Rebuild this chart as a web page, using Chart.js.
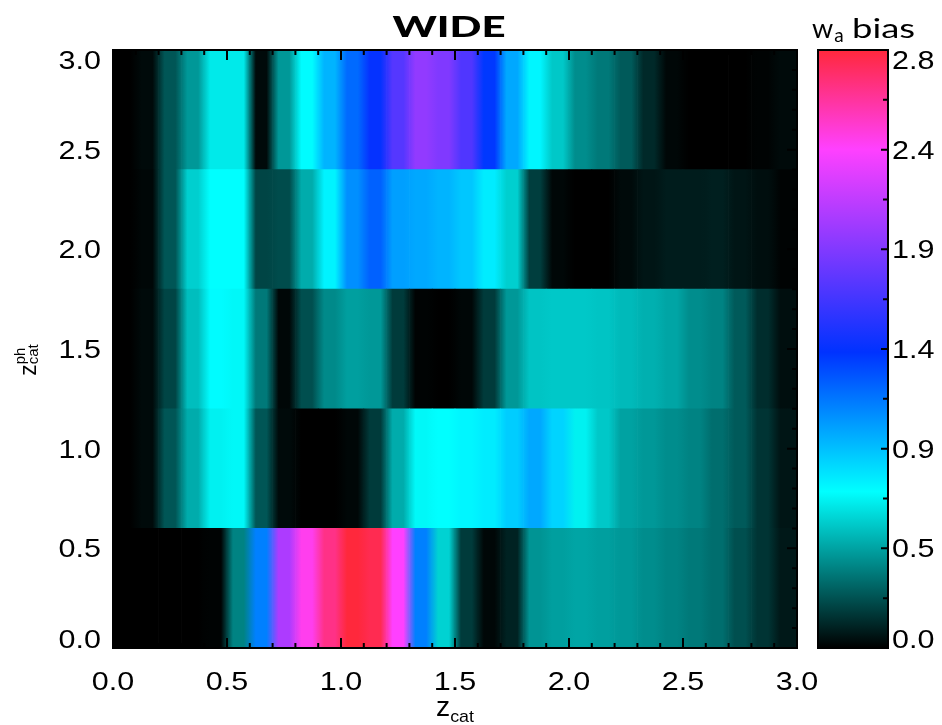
<!DOCTYPE html>
<html>
<head>
<meta charset="utf-8">
<title>WIDE</title>
<script src="https://cdn.jsdelivr.net/npm/chart.js@4.4.1/dist/chart.umd.min.js"></script>
<style>
  html, body { margin: 0; padding: 0; background: #fff; }
  #wrap { position: relative; width: 942px; height: 725px; }
  #heat { position: absolute; left: 0; top: 0; }
  #cbar { position: absolute; left: 790px; top: 0; }
</style>
</head>
<body>
<div id="wrap">
  <canvas id="heat" width="942" height="725"></canvas>
  <canvas id="cbar" width="152" height="725"></canvas>
</div>
<script>
// centres of the z_cat bins (width 0.1)
var zCat = [0.05, 0.15, 0.25, 0.35, 0.45, 0.55, 0.65, 0.75, 0.85, 0.95,
            1.05, 1.15, 1.25, 1.35, 1.45, 1.55, 1.65, 1.75, 1.85, 1.95,
            2.05, 2.15, 2.25, 2.35, 2.45, 2.55, 2.65, 2.75, 2.85, 2.95];
// edges of the z_ph bins
var zPhEdges = [0.0, 0.6, 1.2, 1.8, 2.4, 3.0];

// w_a bias per z_ph bin, one value per z_cat bin
var biasPh00 = [0.00, 0.00, 0.00, 0.00, 0.01, 0.38, 1.15, 2.05, 2.40, 2.65,
                2.83, 2.78, 2.36, 1.15, 0.61, 0.17, 0.02, 0.10, 0.43, 0.46,
                0.48, 0.46, 0.44, 0.41, 0.38, 0.35, 0.32, 0.23, 0.15, 0.07];
var biasPh06 = [0.00, 0.03, 0.25, 0.50, 0.70, 0.72, 0.25, 0.03, 0.00, 0.00,
                0.02, 0.17, 0.50, 0.72, 0.74, 0.77, 0.80, 0.90, 1.02, 0.88,
                0.70, 0.58, 0.47, 0.44, 0.41, 0.38, 0.32, 0.26, 0.15, 0.06];
var biasPh12 = [0.00, 0.03, 0.20, 0.55, 0.75, 0.72, 0.35, 0.02, 0.23, 0.40,
                0.46, 0.44, 0.17, 0.01, 0.00, 0.02, 0.17, 0.44, 0.57, 0.58,
                0.58, 0.57, 0.54, 0.51, 0.48, 0.41, 0.38, 0.26, 0.13, 0.04];
var biasPh18 = [0.00, 0.02, 0.25, 0.60, 0.74, 0.74, 0.20, 0.22, 0.50, 0.78,
                1.10, 1.25, 1.05, 1.02, 0.98, 0.92, 0.80, 0.60, 0.18, 0.02,
                0.00, 0.00, 0.03, 0.06, 0.08, 0.08, 0.09, 0.06, 0.04, 0.01];
var biasPh24 = [0.00, 0.03, 0.25, 0.44, 0.68, 0.68, 0.03, 0.44, 0.75, 0.98,
                1.22, 1.42, 1.72, 1.95, 1.88, 1.70, 1.38, 1.02, 0.77, 0.58,
                0.41, 0.35, 0.26, 0.12, 0.02, 0.00, 0.00, 0.00, 0.01, 0.03];
var rows = [biasPh00, biasPh06, biasPh12, biasPh18, biasPh24];

// axis ticks
var zTicks = [0.0, 0.5, 1.0, 1.5, 2.0, 2.5, 3.0];
var biasMax = 2.83;
var barTicks = [0.0, 0.4717, 0.9433, 1.415, 1.8867, 2.3583, 2.83];
var barLabels = ['0.0', '0.5', '0.9', '1.4', '1.9', '2.4', '2.8'];

// colour table: black -> cyan -> blue -> magenta -> red
var cmapStops = [
  [0.00, [0, 0, 0]],
  [0.74, [0, 255, 255]],
  [1.40, [0, 50, 255]],
  [2.36, [255, 64, 255]],
  [2.83, [255, 40, 60]]
];

function cmap(v) {
  if (v <= cmapStops[0][0]) return cmapStops[0][1];
  for (var i = 1; i < cmapStops.length; i++) {
    var a = cmapStops[i - 1], b = cmapStops[i];
    if (v <= b[0]) {
      var t = (v - a[0]) / (b[0] - a[0]);
      return [0, 1, 2].map(function (j) { return a[1][j] + t * (b[1][j] - a[1][j]); });
    }
  }
  return cmapStops[cmapStops.length - 1][1];
}
function rgb(c) {
  return 'rgb(' + Math.round(c[0]) + ',' + Math.round(c[1]) + ',' + Math.round(c[2]) + ')';
}
function mix(a, b) {
  return [(a[0] + b[0]) / 2, (a[1] + b[1]) / 2, (a[2] + b[2]) / 2];
}

// each cell fades into its neighbours over a few pixels
var SOFT = 6;
function cellFill(c) {
  var chart = c.chart, xs = chart.scales.x;
  var row = rows[c.datasetIndex], k = c.dataIndex;
  if (row === undefined || k === undefined) return '#000';
  var self = cmap(row[k]);
  if (!chart.chartArea) return rgb(self);
  var half = (zCat[1] - zCat[0]) / 2;
  var x0 = xs.getPixelForValue(zCat[k] - half);
  var x1 = xs.getPixelForValue(zCat[k] + half);
  var prev = k > 0 ? cmap(row[k - 1]) : self;
  var next = k < row.length - 1 ? cmap(row[k + 1]) : self;
  var w = Math.min(0.45, SOFT / (x1 - x0));
  var g = chart.ctx.createLinearGradient(x0, 0, x1, 0);
  g.addColorStop(0, rgb(mix(prev, self)));
  g.addColorStop(w, rgb(self));
  g.addColorStop(1 - w, rgb(self));
  g.addColorStop(1, rgb(mix(self, next)));
  return g;
}

var HELV = '"Liberation Sans", Arial, sans-serif';
var GILL = 'Lato, "Open Sans", sans-serif';
var LABEL_FONT = '25px ' + HELV;
var LABEL_STRETCH = 1.22;
var DIGIT_H = 18;

// a single string drawn wider than the font's own proportions
function wideText(ctx, t, x, y, font, stretch, align, base) {
  ctx.save();
  ctx.translate(x, y);
  ctx.scale(stretch, 1);
  ctx.font = font;
  ctx.textAlign = align;
  ctx.textBaseline = base;
  ctx.fillText(t, 0, 0);
  ctx.restore();
}

// baseline for a vertical-axis label: centred on its tick, kept inside the axis ends
function labelBase(py, a) {
  return Math.min(Math.max(py + DIGIT_H / 2, a.top + DIGIT_H + 1), a.bottom);
}

// base letter followed by sub/superscripts
function scriptText(ctx, x, y, base, scripts, align, stretch) {
  stretch = stretch || 1;
  ctx.font = base.font;
  var bw = ctx.measureText(base.t).width;
  var sw = 0;
  scripts.forEach(function (s) {
    ctx.font = s.font;
    s.w = ctx.measureText(s.t).width;
    sw = Math.max(sw, s.w + (s.dx || 0));
  });
  var total = bw + sw;
  ctx.save();
  ctx.translate(x, y);
  ctx.scale(stretch, 1);
  ctx.textAlign = 'left';
  ctx.textBaseline = 'alphabetic';
  var x0 = align === 'center' ? -total / 2 : 0;
  ctx.font = base.font;
  ctx.fillText(base.t, x0, 0);
  scripts.forEach(function (s) {
    ctx.font = s.font;
    ctx.fillText(s.t, x0 + bw + (s.dx || 0), s.dy || 0);
  });
  ctx.restore();
  return total * stretch;
}

// frame, inward tick marks, tick labels and titles of the map
var heatFrame = {
  id: 'heatFrame',
  afterDatasetsDraw: function (chart) {
    var a = chart.chartArea, ctx = chart.ctx;
    var xs = chart.scales.x, ys = chart.scales.y;
    ctx.save();
    ctx.strokeStyle = '#000';
    ctx.lineWidth = 2;
    ctx.beginPath();
    for (var i = 1; i < 30; i++) {
      var len = i % 5 === 0 ? 10 : 5;
      var px = xs.getPixelForValue(i / 10);
      var py = ys.getPixelForValue(i / 10);
      ctx.moveTo(px, a.bottom); ctx.lineTo(px, a.bottom - len);
      ctx.moveTo(px, a.top); ctx.lineTo(px, a.top + len);
      ctx.moveTo(a.left, py); ctx.lineTo(a.left + len, py);
      ctx.moveTo(a.right, py); ctx.lineTo(a.right - len, py);
    }
    ctx.stroke();
    ctx.strokeRect(a.left, a.top, a.right - a.left, a.bottom - a.top);
    ctx.fillStyle = '#000';

    // tick labels
    xs.ticks.forEach(function (t) {
      wideText(ctx, t.value.toFixed(1), xs.getPixelForValue(t.value), a.bottom + 42,
        LABEL_FONT, LABEL_STRETCH, 'center', 'alphabetic');
    });
    ys.ticks.forEach(function (t) {
      wideText(ctx, t.value.toFixed(1), a.left - 12, labelBase(ys.getPixelForValue(t.value), a),
        LABEL_FONT, LABEL_STRETCH, 'right', 'alphabetic');
    });

    // title
    ctx.save();
    ctx.font = '900 28px ' + GILL;
    ctx.textAlign = 'center';
    ctx.textBaseline = 'alphabetic';
    ctx.translate((a.left + a.right) / 2 - 6, 37);
    ctx.scale(1.5, 1);
    ctx.fillText('WIDE', 0, 0);
    ctx.restore();

    // x axis title
    scriptText(ctx, (a.left + a.right) / 2, 716,
      { t: 'z', font: '27px ' + HELV },
      [{ t: 'cat', font: '17px ' + HELV, dy: 6 }], 'center', 1.05);

    // y axis title, rotated
    ctx.save();
    ctx.translate(36, 360);
    ctx.rotate(-Math.PI / 2);
    scriptText(ctx, 0, 0,
      { t: 'z', font: '23px ' + HELV },
      [{ t: 'ph', font: '15px ' + HELV, dy: -11 },
       { t: 'cat', font: '15px ' + HELV, dy: 2 }], 'center', 1.0);
    ctx.restore();
    ctx.restore();
  }
};

var datasets = rows.map(function (vals, r) {
  return {
    label: zPhEdges[r].toFixed(1) + '-' + zPhEdges[r + 1].toFixed(1),
    data: zCat.map(function (z) { return { x: z, y: [zPhEdges[r], zPhEdges[r + 1]] }; }),
    backgroundColor: cellFill,
    borderWidth: 0,
    grouped: false,
    barPercentage: 1,
    categoryPercentage: 1,
    clip: 0
  };
});

new Chart(document.getElementById('heat'), {
  type: 'bar',
  data: { datasets: datasets },
  options: {
    responsive: false,
    animation: false,
    devicePixelRatio: 1,
    layout: { padding: { top: 50, right: 145, left: 0, bottom: 0 } },
    plugins: { legend: { display: false }, tooltip: { enabled: false } },
    scales: {
      x: {
        type: 'linear', min: 0, max: 3, offset: false,
        grid: { display: false, offset: false },
        border: { display: false },
        afterBuildTicks: function (s) { s.ticks = zTicks.map(function (v) { return { value: v }; }); },
        afterFit: function (s) { s.height = 77; },
        ticks: { display: false }
      },
      y: {
        type: 'linear', min: 0, max: 3,
        grid: { display: false },
        border: { display: false },
        afterBuildTicks: function (s) { s.ticks = zTicks.map(function (v) { return { value: v }; }); },
        afterFit: function (s) { s.width = 113; },
        ticks: { display: false }
      }
    }
  },
  plugins: [heatFrame]
});

// colour bar
function barFill(c) {
  var chart = c.chart;
  if (!chart.chartArea) return '#000';
  var ys = chart.scales.y;
  var g = chart.ctx.createLinearGradient(0, ys.getPixelForValue(0), 0, ys.getPixelForValue(biasMax));
  cmapStops.forEach(function (s) { g.addColorStop(s[0] / biasMax, rgb(s[1])); });
  return g;
}

var barFrame = {
  id: 'barFrame',
  afterDatasetsDraw: function (chart) {
    var a = chart.chartArea, ctx = chart.ctx, ys = chart.scales.y;
    ctx.save();
    ctx.strokeStyle = '#000';
    ctx.lineWidth = 2;
    ctx.beginPath();
    for (var i = 1; i < barTicks.length - 1; i++) {
      var py = ys.getPixelForValue(barTicks[i]);
      ctx.moveTo(a.right, py); ctx.lineTo(a.right - 7, py);
    }
    for (var j = 0; j < barTicks.length - 1; j++) {
      var pm = ys.getPixelForValue((barTicks[j] + barTicks[j + 1]) / 2);
      ctx.moveTo(a.right, pm); ctx.lineTo(a.right - 5, pm);
    }
    ctx.stroke();
    ctx.strokeRect(a.left, a.top, a.right - a.left, a.bottom - a.top);
    ctx.fillStyle = '#000';
    barTicks.forEach(function (v, i) {
      wideText(ctx, barLabels[i], a.right + 4, labelBase(ys.getPixelForValue(v), a),
        LABEL_FONT, LABEL_STRETCH, 'left', 'alphabetic');
    });
    // colour bar title: w with subscript a, then "bias"
    scriptText(ctx, 22, 38,
      { t: 'w', font: '27px ' + GILL },
      [{ t: 'a', font: '19px ' + GILL, dy: 4, dx: 1 }], 'left', 1.0);
    wideText(ctx, 'bias', 62, 38, '27px ' + GILL, 1.35, 'left', 'alphabetic');
    ctx.restore();
  }
};

new Chart(document.getElementById('cbar'), {
  type: 'bar',
  data: {
    labels: ['w_a bias'],
    datasets: [{
      data: [[0, biasMax]],
      backgroundColor: barFill,
      borderWidth: 0,
      barPercentage: 1,
      categoryPercentage: 1
    }]
  },
  options: {
    responsive: false,
    animation: false,
    devicePixelRatio: 1,
    layout: { padding: { top: 50, right: 0, left: 28, bottom: 77 } },
    plugins: { legend: { display: false }, tooltip: { enabled: false } },
    scales: {
      x: { display: false },
      y: {
        position: 'right', min: 0, max: biasMax,
        grid: { display: false },
        border: { display: false },
        afterBuildTicks: function (s) { s.ticks = barTicks.map(function (v) { return { value: v }; }); },
        afterFit: function (s) { s.width = 54; },
        ticks: { display: false }
      }
    }
  },
  plugins: [barFrame]
});
</script>
</body>
</html>
